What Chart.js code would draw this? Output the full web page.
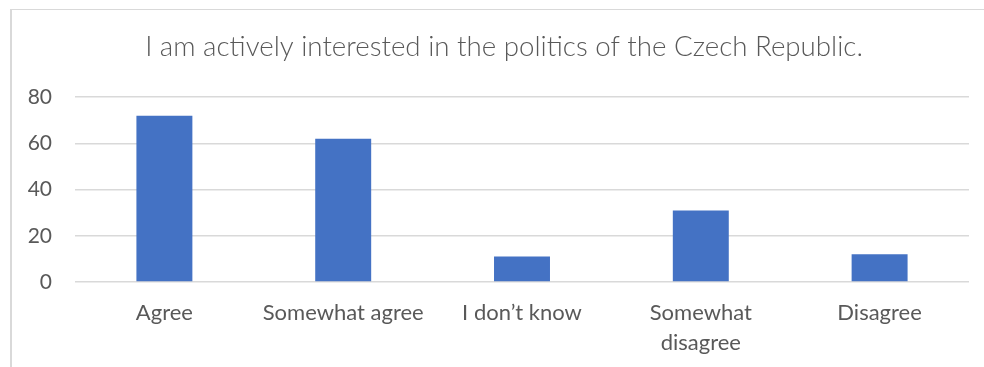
<!DOCTYPE html>
<html>
<head>
<meta charset="utf-8">
<script src="https://cdn.jsdelivr.net/npm/chart.js@4/dist/chart.umd.min.js"></script>
<style>
  html, body { margin: 0; padding: 0; background: #fff; overflow: hidden; }
  #frame { position: absolute; left: 10px; top: 9px; width: 1000px; height: 400px;
           border-left: 2px solid #d9d9d9; border-top: 1px solid #d9d9d9; pointer-events: none; }
  #wrap { position: absolute; left: 0; top: 0; width: 984px; height: 367px; }
</style>
</head>
<body>
<div id="frame"></div>
<div id="wrap"><canvas id="c" width="984" height="367"></canvas></div>
<script>
const titleText = "I am actively interested in the politics of the Czech Republic.";
const categories = ["Agree", "Somewhat agree", "I don\u2019t know", ["Somewhat", "disagree"], "Disagree"];
const values = [72, 62, 11, 31, 12];
const yTicks = [0, 20, 40, 60, 80];

const textColor = "#595959";
const barColor = "#4472C4";
const gridColor = "#d9d9d9";

new Chart(document.getElementById("c"), {
  type: "bar",
  data: {
    labels: categories,
    datasets: [{
      data: values,
      yAxisID: "y",
      backgroundColor: barColor,
      borderWidth: 0,
      barPercentage: 0.313,
      categoryPercentage: 1.0
    }]
  },
  options: {
    responsive: false,
    animation: false,
    devicePixelRatio: 1,
    layout: { padding: { left: 24, right: 0, top: 0, bottom: 0 } },
    plugins: {
      legend: { display: false },
      tooltip: { enabled: false },
      title: {
        display: true,
        text: titleText,
        color: textColor,
        font: { family: "Lato", size: 27.7, weight: 300, lineHeight: 1.2 },
        padding: { top: 30, bottom: 34 }
      }
    },
    scales: {
      x: {
        grid: { display: false, drawTicks: false },
        border: { display: false },
        ticks: {
          color: textColor,
          font: { family: "Lato", size: 22, lineHeight: 1.36 },
          padding: 16,
          maxRotation: 0,
          autoSkip: false
        },
        afterFit: (s) => { s.height = 85; }
      },
      y: {
        position: "left",
        min: 0,
        max: 80,
        afterBuildTicks: (s) => { s.ticks = yTicks.map(v => ({ value: v })); },
        grid: { color: gridColor, lineWidth: 1.5, drawTicks: false },
        border: { display: false },
        ticks: {
          color: textColor,
          font: { family: "Lato", size: 21 },
          padding: 23
        },
        afterFit: (s) => { s.width = 51; }
      },
      yRight: {
        position: "right",
        display: true,
        min: 0,
        max: 80,
        grid: { display: false, drawTicks: false },
        border: { display: false },
        ticks: { display: false },
        afterFit: (s) => { s.width = 15; }
      }
    }
  }
});
</script>
</body>
</html>
